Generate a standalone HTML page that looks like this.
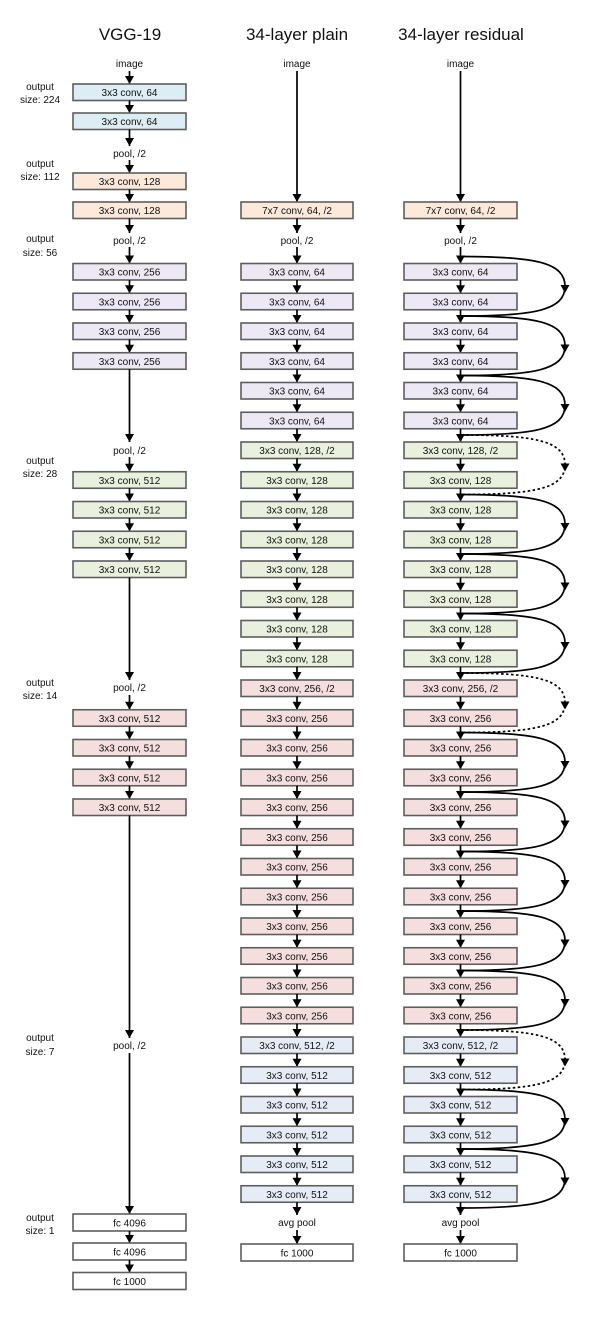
<!DOCTYPE html>
<html><head><meta charset="utf-8"><style>
html,body{margin:0;padding:0;background:#fff;}
svg{display:block;font-family:"Liberation Sans",sans-serif;}
.b{stroke:#5e5e5e;stroke-width:1.6}
.t{font-size:10px;text-anchor:middle;fill:#111}
.s{font-size:10px;text-anchor:middle;fill:#111}
.h{font-size:17px;text-anchor:middle;fill:#111}
.l{stroke:#000;stroke-width:1.7;fill:none}
.cu{stroke:#000;stroke-width:1.7;fill:none}
.da{stroke-dasharray:2.5,2.5}
.c1{fill:#dcedf3}.c2{fill:#fce9da}.c3{fill:#ece9f5}.c4{fill:#e9f0dd}.c5{fill:#f5dede}.c6{fill:#e6ecf6}.c0{fill:#fff}
</style></head><body>
<svg width="601" height="1317" viewBox="0 0 601 1317" xmlns="http://www.w3.org/2000/svg">
<defs><path id="ah" d="M-4.5,-8 L4.5,-8 L0,0Z" fill="#000"/></defs>
<!-- titles -->
<text class="h" x="130" y="40">VGG-19</text>
<text class="h" x="297" y="40">34-layer plain</text>
<text class="h" x="461" y="40">34-layer residual</text>
<!-- output size labels -->
<g class="s">
<text x="40" y="90">output</text><text x="40" y="103">size: 224</text>
<text x="40" y="167">output</text><text x="40" y="180">size: 112</text>
<text x="40" y="242">output</text><text x="40" y="256">size: 56</text>
<text x="40" y="464">output</text><text x="40" y="477">size: 28</text>
<text x="40" y="686">output</text><text x="40" y="699">size: 14</text>
<text x="40" y="1041">output</text><text x="40" y="1055">size: 7</text>
<text x="40" y="1221">output</text><text x="40" y="1234">size: 1</text>
</g>
<!-- VGG column -->
<text class="t" x="129.5" y="67">image</text>
<path class="l" d="M129.5 71V84"/><use href="#ah" x="129.5" y="84"/>
<rect class="b c1" x="73" y="84" width="113" height="16.5"/><text class="t" x="129.5" y="96">3x3 conv, 64</text>
<path class="l" d="M129.5 100.5V113"/><use href="#ah" x="129.5" y="113"/>
<rect class="b c1" x="73" y="113" width="113" height="16.5"/><text class="t" x="129.5" y="125">3x3 conv, 64</text>
<path class="l" d="M129.5 129.5V146"/><use href="#ah" x="129.5" y="146"/>
<text class="t" x="129.5" y="157">pool, /2</text>
<path class="l" d="M129.5 160V173"/><use href="#ah" x="129.5" y="173"/>
<rect class="b c2" x="73" y="173" width="113" height="16.5"/><text class="t" x="129.5" y="185">3x3 conv, 128</text>
<path class="l" d="M129.5 189.5V202"/><use href="#ah" x="129.5" y="202"/>
<rect class="b c2" x="73" y="202" width="113" height="16.5"/><text class="t" x="129.5" y="214">3x3 conv, 128</text>
<path class="l" d="M129.5 218.5V233"/><use href="#ah" x="129.5" y="233"/>
<text class="t" x="129.5" y="244">pool, /2</text>
<path class="l" d="M129.5 247V263.5"/><use href="#ah" x="129.5" y="263.5"/>
<rect class="b c3" x="73" y="263.5" width="113" height="16.5"/><text class="t" x="129.5" y="275.5">3x3 conv, 256</text>
<path class="l" d="M129.5 280V293.25"/><use href="#ah" x="129.5" y="293.25"/>
<rect class="b c3" x="73" y="293.25" width="113" height="16.5"/><text class="t" x="129.5" y="305.25">3x3 conv, 256</text>
<path class="l" d="M129.5 309.75V323"/><use href="#ah" x="129.5" y="323"/>
<rect class="b c3" x="73" y="323" width="113" height="16.5"/><text class="t" x="129.5" y="335">3x3 conv, 256</text>
<path class="l" d="M129.5 339.5V352.75"/><use href="#ah" x="129.5" y="352.75"/>
<rect class="b c3" x="73" y="352.75" width="113" height="16.5"/><text class="t" x="129.5" y="364.75">3x3 conv, 256</text>
<path class="l" d="M129.5 369.25V442"/><use href="#ah" x="129.5" y="442"/>
<text class="t" x="129.5" y="454">pool, /2</text>
<path class="l" d="M129.5 457V471.75"/><use href="#ah" x="129.5" y="471.75"/>
<rect class="b c4" x="73" y="471.75" width="113" height="16.5"/><text class="t" x="129.5" y="483.75">3x3 conv, 512</text>
<path class="l" d="M129.5 488.25V501.5"/><use href="#ah" x="129.5" y="501.5"/>
<rect class="b c4" x="73" y="501.5" width="113" height="16.5"/><text class="t" x="129.5" y="513.5">3x3 conv, 512</text>
<path class="l" d="M129.5 518V531.25"/><use href="#ah" x="129.5" y="531.25"/>
<rect class="b c4" x="73" y="531.25" width="113" height="16.5"/><text class="t" x="129.5" y="543.25">3x3 conv, 512</text>
<path class="l" d="M129.5 547.75V561"/><use href="#ah" x="129.5" y="561"/>
<rect class="b c4" x="73" y="561" width="113" height="16.5"/><text class="t" x="129.5" y="573">3x3 conv, 512</text>
<path class="l" d="M129.5 577.5V680"/><use href="#ah" x="129.5" y="680"/>
<text class="t" x="129.5" y="691">pool, /2</text>
<path class="l" d="M129.5 695V709.75"/><use href="#ah" x="129.5" y="709.75"/>
<rect class="b c5" x="73" y="709.75" width="113" height="16.5"/><text class="t" x="129.5" y="721.75">3x3 conv, 512</text>
<path class="l" d="M129.5 726.25V739.5"/><use href="#ah" x="129.5" y="739.5"/>
<rect class="b c5" x="73" y="739.5" width="113" height="16.5"/><text class="t" x="129.5" y="751.5">3x3 conv, 512</text>
<path class="l" d="M129.5 756V769.25"/><use href="#ah" x="129.5" y="769.25"/>
<rect class="b c5" x="73" y="769.25" width="113" height="16.5"/><text class="t" x="129.5" y="781.25">3x3 conv, 512</text>
<path class="l" d="M129.5 785.75V799"/><use href="#ah" x="129.5" y="799"/>
<rect class="b c5" x="73" y="799" width="113" height="16.5"/><text class="t" x="129.5" y="811">3x3 conv, 512</text>
<path class="l" d="M129.5 815.5V1038"/><use href="#ah" x="129.5" y="1038"/>
<text class="t" x="129.5" y="1049">pool, /2</text>
<path class="l" d="M129.5 1053V1214"/><use href="#ah" x="129.5" y="1214"/>
<rect class="b c0" x="73" y="1214" width="113" height="17"/><text class="t" x="129.5" y="1226.5">fc 4096</text>
<path class="l" d="M129.5 1231V1243"/><use href="#ah" x="129.5" y="1243"/>
<rect class="b c0" x="73" y="1243" width="113" height="17"/><text class="t" x="129.5" y="1255.5">fc 4096</text>
<path class="l" d="M129.5 1260V1272.5"/><use href="#ah" x="129.5" y="1272.5"/>
<rect class="b c0" x="73" y="1272.5" width="113" height="17"/><text class="t" x="129.5" y="1285">fc 1000</text>

<!-- plain & residual tops -->
<text class="t" x="297" y="67">image</text><text class="t" x="460.5" y="67">image</text>
<path class="l" d="M297 71V202M460.5 71V202"/><use href="#ah" x="297" y="202"/><use href="#ah" x="460.5" y="202"/>
<rect class="b c2" x="241" y="202" width="112" height="16.5"/><text class="t" x="297" y="214">7x7 conv, 64, /2</text>
<rect class="b c2" x="404" y="202" width="113" height="16.5"/><text class="t" x="460.5" y="214">7x7 conv, 64, /2</text>
<path class="l" d="M297 218.5V233M460.5 218.5V233"/><use href="#ah" x="297" y="233"/><use href="#ah" x="460.5" y="233"/>
<text class="t" x="297" y="244">pool, /2</text><text class="t" x="460.5" y="244">pool, /2</text>
<path class="l" d="M297 247V263.5M460.5 247V263.5"/><use href="#ah" x="297" y="263.5"/><use href="#ah" x="460.5" y="263.5"/>

<!-- repeated rows -->
<g id="r0" transform="translate(0,263.5)"><rect class="b c3" x="241" y="0" width="112" height="16.5"/><text class="t" x="297" y="12">3x3 conv, 64</text><rect class="b c3" x="404" y="0" width="113" height="16.5"/><text class="t" x="460.5" y="12">3x3 conv, 64</text><path class="l" d="M297 16.5V29.75M460.5 16.5V29.75"/><use href="#ah" x="297" y="29.75"/><use href="#ah" x="460.5" y="29.75"/></g>
<g transform="translate(0,293.25)"><rect class="b c3" x="241" y="0" width="112" height="16.5"/><text class="t" x="297" y="12">3x3 conv, 64</text><rect class="b c3" x="404" y="0" width="113" height="16.5"/><text class="t" x="460.5" y="12">3x3 conv, 64</text><path class="l" d="M297 16.5V29.75M460.5 16.5V29.75"/><use href="#ah" x="297" y="29.75"/><use href="#ah" x="460.5" y="29.75"/></g>
<g transform="translate(0,323)"><rect class="b c3" x="241" y="0" width="112" height="16.5"/><text class="t" x="297" y="12">3x3 conv, 64</text><rect class="b c3" x="404" y="0" width="113" height="16.5"/><text class="t" x="460.5" y="12">3x3 conv, 64</text><path class="l" d="M297 16.5V29.75M460.5 16.5V29.75"/><use href="#ah" x="297" y="29.75"/><use href="#ah" x="460.5" y="29.75"/></g>
<g transform="translate(0,352.75)"><rect class="b c3" x="241" y="0" width="112" height="16.5"/><text class="t" x="297" y="12">3x3 conv, 64</text><rect class="b c3" x="404" y="0" width="113" height="16.5"/><text class="t" x="460.5" y="12">3x3 conv, 64</text><path class="l" d="M297 16.5V29.75M460.5 16.5V29.75"/><use href="#ah" x="297" y="29.75"/><use href="#ah" x="460.5" y="29.75"/></g>
<g transform="translate(0,382.5)"><rect class="b c3" x="241" y="0" width="112" height="16.5"/><text class="t" x="297" y="12">3x3 conv, 64</text><rect class="b c3" x="404" y="0" width="113" height="16.5"/><text class="t" x="460.5" y="12">3x3 conv, 64</text><path class="l" d="M297 16.5V29.75M460.5 16.5V29.75"/><use href="#ah" x="297" y="29.75"/><use href="#ah" x="460.5" y="29.75"/></g>
<g transform="translate(0,412.25)"><rect class="b c3" x="241" y="0" width="112" height="16.5"/><text class="t" x="297" y="12">3x3 conv, 64</text><rect class="b c3" x="404" y="0" width="113" height="16.5"/><text class="t" x="460.5" y="12">3x3 conv, 64</text><path class="l" d="M297 16.5V29.75M460.5 16.5V29.75"/><use href="#ah" x="297" y="29.75"/><use href="#ah" x="460.5" y="29.75"/></g>
<g transform="translate(0,442)"><rect class="b c4" x="241" y="0" width="112" height="16.5"/><text class="t" x="297" y="12">3x3 conv, 128, /2</text><rect class="b c4" x="404" y="0" width="113" height="16.5"/><text class="t" x="460.5" y="12">3x3 conv, 128, /2</text><path class="l" d="M297 16.5V29.75M460.5 16.5V29.75"/><use href="#ah" x="297" y="29.75"/><use href="#ah" x="460.5" y="29.75"/></g>
<g transform="translate(0,471.75)"><rect class="b c4" x="241" y="0" width="112" height="16.5"/><text class="t" x="297" y="12">3x3 conv, 128</text><rect class="b c4" x="404" y="0" width="113" height="16.5"/><text class="t" x="460.5" y="12">3x3 conv, 128</text><path class="l" d="M297 16.5V29.75M460.5 16.5V29.75"/><use href="#ah" x="297" y="29.75"/><use href="#ah" x="460.5" y="29.75"/></g>
<g transform="translate(0,501.5)"><rect class="b c4" x="241" y="0" width="112" height="16.5"/><text class="t" x="297" y="12">3x3 conv, 128</text><rect class="b c4" x="404" y="0" width="113" height="16.5"/><text class="t" x="460.5" y="12">3x3 conv, 128</text><path class="l" d="M297 16.5V29.75M460.5 16.5V29.75"/><use href="#ah" x="297" y="29.75"/><use href="#ah" x="460.5" y="29.75"/></g>
<g transform="translate(0,531.25)"><rect class="b c4" x="241" y="0" width="112" height="16.5"/><text class="t" x="297" y="12">3x3 conv, 128</text><rect class="b c4" x="404" y="0" width="113" height="16.5"/><text class="t" x="460.5" y="12">3x3 conv, 128</text><path class="l" d="M297 16.5V29.75M460.5 16.5V29.75"/><use href="#ah" x="297" y="29.75"/><use href="#ah" x="460.5" y="29.75"/></g>
<g transform="translate(0,561)"><rect class="b c4" x="241" y="0" width="112" height="16.5"/><text class="t" x="297" y="12">3x3 conv, 128</text><rect class="b c4" x="404" y="0" width="113" height="16.5"/><text class="t" x="460.5" y="12">3x3 conv, 128</text><path class="l" d="M297 16.5V29.75M460.5 16.5V29.75"/><use href="#ah" x="297" y="29.75"/><use href="#ah" x="460.5" y="29.75"/></g>
<g transform="translate(0,590.75)"><rect class="b c4" x="241" y="0" width="112" height="16.5"/><text class="t" x="297" y="12">3x3 conv, 128</text><rect class="b c4" x="404" y="0" width="113" height="16.5"/><text class="t" x="460.5" y="12">3x3 conv, 128</text><path class="l" d="M297 16.5V29.75M460.5 16.5V29.75"/><use href="#ah" x="297" y="29.75"/><use href="#ah" x="460.5" y="29.75"/></g>
<g transform="translate(0,620.5)"><rect class="b c4" x="241" y="0" width="112" height="16.5"/><text class="t" x="297" y="12">3x3 conv, 128</text><rect class="b c4" x="404" y="0" width="113" height="16.5"/><text class="t" x="460.5" y="12">3x3 conv, 128</text><path class="l" d="M297 16.5V29.75M460.5 16.5V29.75"/><use href="#ah" x="297" y="29.75"/><use href="#ah" x="460.5" y="29.75"/></g>
<g transform="translate(0,650.25)"><rect class="b c4" x="241" y="0" width="112" height="16.5"/><text class="t" x="297" y="12">3x3 conv, 128</text><rect class="b c4" x="404" y="0" width="113" height="16.5"/><text class="t" x="460.5" y="12">3x3 conv, 128</text><path class="l" d="M297 16.5V29.75M460.5 16.5V29.75"/><use href="#ah" x="297" y="29.75"/><use href="#ah" x="460.5" y="29.75"/></g>
<g transform="translate(0,680)"><rect class="b c5" x="241" y="0" width="112" height="16.5"/><text class="t" x="297" y="12">3x3 conv, 256, /2</text><rect class="b c5" x="404" y="0" width="113" height="16.5"/><text class="t" x="460.5" y="12">3x3 conv, 256, /2</text><path class="l" d="M297 16.5V29.75M460.5 16.5V29.75"/><use href="#ah" x="297" y="29.75"/><use href="#ah" x="460.5" y="29.75"/></g>
<g transform="translate(0,709.75)"><rect class="b c5" x="241" y="0" width="112" height="16.5"/><text class="t" x="297" y="12">3x3 conv, 256</text><rect class="b c5" x="404" y="0" width="113" height="16.5"/><text class="t" x="460.5" y="12">3x3 conv, 256</text><path class="l" d="M297 16.5V29.75M460.5 16.5V29.75"/><use href="#ah" x="297" y="29.75"/><use href="#ah" x="460.5" y="29.75"/></g>
<g transform="translate(0,739.5)"><rect class="b c5" x="241" y="0" width="112" height="16.5"/><text class="t" x="297" y="12">3x3 conv, 256</text><rect class="b c5" x="404" y="0" width="113" height="16.5"/><text class="t" x="460.5" y="12">3x3 conv, 256</text><path class="l" d="M297 16.5V29.75M460.5 16.5V29.75"/><use href="#ah" x="297" y="29.75"/><use href="#ah" x="460.5" y="29.75"/></g>
<g transform="translate(0,769.25)"><rect class="b c5" x="241" y="0" width="112" height="16.5"/><text class="t" x="297" y="12">3x3 conv, 256</text><rect class="b c5" x="404" y="0" width="113" height="16.5"/><text class="t" x="460.5" y="12">3x3 conv, 256</text><path class="l" d="M297 16.5V29.75M460.5 16.5V29.75"/><use href="#ah" x="297" y="29.75"/><use href="#ah" x="460.5" y="29.75"/></g>
<g transform="translate(0,799)"><rect class="b c5" x="241" y="0" width="112" height="16.5"/><text class="t" x="297" y="12">3x3 conv, 256</text><rect class="b c5" x="404" y="0" width="113" height="16.5"/><text class="t" x="460.5" y="12">3x3 conv, 256</text><path class="l" d="M297 16.5V29.75M460.5 16.5V29.75"/><use href="#ah" x="297" y="29.75"/><use href="#ah" x="460.5" y="29.75"/></g>
<g transform="translate(0,828.75)"><rect class="b c5" x="241" y="0" width="112" height="16.5"/><text class="t" x="297" y="12">3x3 conv, 256</text><rect class="b c5" x="404" y="0" width="113" height="16.5"/><text class="t" x="460.5" y="12">3x3 conv, 256</text><path class="l" d="M297 16.5V29.75M460.5 16.5V29.75"/><use href="#ah" x="297" y="29.75"/><use href="#ah" x="460.5" y="29.75"/></g>
<g transform="translate(0,858.5)"><rect class="b c5" x="241" y="0" width="112" height="16.5"/><text class="t" x="297" y="12">3x3 conv, 256</text><rect class="b c5" x="404" y="0" width="113" height="16.5"/><text class="t" x="460.5" y="12">3x3 conv, 256</text><path class="l" d="M297 16.5V29.75M460.5 16.5V29.75"/><use href="#ah" x="297" y="29.75"/><use href="#ah" x="460.5" y="29.75"/></g>
<g transform="translate(0,888.25)"><rect class="b c5" x="241" y="0" width="112" height="16.5"/><text class="t" x="297" y="12">3x3 conv, 256</text><rect class="b c5" x="404" y="0" width="113" height="16.5"/><text class="t" x="460.5" y="12">3x3 conv, 256</text><path class="l" d="M297 16.5V29.75M460.5 16.5V29.75"/><use href="#ah" x="297" y="29.75"/><use href="#ah" x="460.5" y="29.75"/></g>
<g transform="translate(0,918)"><rect class="b c5" x="241" y="0" width="112" height="16.5"/><text class="t" x="297" y="12">3x3 conv, 256</text><rect class="b c5" x="404" y="0" width="113" height="16.5"/><text class="t" x="460.5" y="12">3x3 conv, 256</text><path class="l" d="M297 16.5V29.75M460.5 16.5V29.75"/><use href="#ah" x="297" y="29.75"/><use href="#ah" x="460.5" y="29.75"/></g>
<g transform="translate(0,947.75)"><rect class="b c5" x="241" y="0" width="112" height="16.5"/><text class="t" x="297" y="12">3x3 conv, 256</text><rect class="b c5" x="404" y="0" width="113" height="16.5"/><text class="t" x="460.5" y="12">3x3 conv, 256</text><path class="l" d="M297 16.5V29.75M460.5 16.5V29.75"/><use href="#ah" x="297" y="29.75"/><use href="#ah" x="460.5" y="29.75"/></g>
<g transform="translate(0,977.5)"><rect class="b c5" x="241" y="0" width="112" height="16.5"/><text class="t" x="297" y="12">3x3 conv, 256</text><rect class="b c5" x="404" y="0" width="113" height="16.5"/><text class="t" x="460.5" y="12">3x3 conv, 256</text><path class="l" d="M297 16.5V29.75M460.5 16.5V29.75"/><use href="#ah" x="297" y="29.75"/><use href="#ah" x="460.5" y="29.75"/></g>
<g transform="translate(0,1007.25)"><rect class="b c5" x="241" y="0" width="112" height="16.5"/><text class="t" x="297" y="12">3x3 conv, 256</text><rect class="b c5" x="404" y="0" width="113" height="16.5"/><text class="t" x="460.5" y="12">3x3 conv, 256</text><path class="l" d="M297 16.5V29.75M460.5 16.5V29.75"/><use href="#ah" x="297" y="29.75"/><use href="#ah" x="460.5" y="29.75"/></g>
<g transform="translate(0,1037)"><rect class="b c6" x="241" y="0" width="112" height="16.5"/><text class="t" x="297" y="12">3x3 conv, 512, /2</text><rect class="b c6" x="404" y="0" width="113" height="16.5"/><text class="t" x="460.5" y="12">3x3 conv, 512, /2</text><path class="l" d="M297 16.5V29.75M460.5 16.5V29.75"/><use href="#ah" x="297" y="29.75"/><use href="#ah" x="460.5" y="29.75"/></g>
<g transform="translate(0,1066.75)"><rect class="b c6" x="241" y="0" width="112" height="16.5"/><text class="t" x="297" y="12">3x3 conv, 512</text><rect class="b c6" x="404" y="0" width="113" height="16.5"/><text class="t" x="460.5" y="12">3x3 conv, 512</text><path class="l" d="M297 16.5V29.75M460.5 16.5V29.75"/><use href="#ah" x="297" y="29.75"/><use href="#ah" x="460.5" y="29.75"/></g>
<g transform="translate(0,1096.5)"><rect class="b c6" x="241" y="0" width="112" height="16.5"/><text class="t" x="297" y="12">3x3 conv, 512</text><rect class="b c6" x="404" y="0" width="113" height="16.5"/><text class="t" x="460.5" y="12">3x3 conv, 512</text><path class="l" d="M297 16.5V29.75M460.5 16.5V29.75"/><use href="#ah" x="297" y="29.75"/><use href="#ah" x="460.5" y="29.75"/></g>
<g transform="translate(0,1126.25)"><rect class="b c6" x="241" y="0" width="112" height="16.5"/><text class="t" x="297" y="12">3x3 conv, 512</text><rect class="b c6" x="404" y="0" width="113" height="16.5"/><text class="t" x="460.5" y="12">3x3 conv, 512</text><path class="l" d="M297 16.5V29.75M460.5 16.5V29.75"/><use href="#ah" x="297" y="29.75"/><use href="#ah" x="460.5" y="29.75"/></g>
<g transform="translate(0,1156)"><rect class="b c6" x="241" y="0" width="112" height="16.5"/><text class="t" x="297" y="12">3x3 conv, 512</text><rect class="b c6" x="404" y="0" width="113" height="16.5"/><text class="t" x="460.5" y="12">3x3 conv, 512</text><path class="l" d="M297 16.5V29.75M460.5 16.5V29.75"/><use href="#ah" x="297" y="29.75"/><use href="#ah" x="460.5" y="29.75"/></g>
<g transform="translate(0,1185.75)"><rect class="b c6" x="241" y="0" width="112" height="16.5"/><text class="t" x="297" y="12">3x3 conv, 512</text><rect class="b c6" x="404" y="0" width="113" height="16.5"/><text class="t" x="460.5" y="12">3x3 conv, 512</text></g>

<!-- bottom -->
<path class="l" d="M297 1202.25V1215M460.5 1202.25V1215"/><use href="#ah" x="297" y="1215"/><use href="#ah" x="460.5" y="1215"/>
<text class="t" x="297" y="1226">avg pool</text><text class="t" x="460.5" y="1226">avg pool</text>
<path class="l" d="M297 1230V1244M460.5 1230V1244"/><use href="#ah" x="297" y="1244"/><use href="#ah" x="460.5" y="1244"/>
<rect class="b c0" x="241" y="1244" width="112" height="17"/><text class="t" x="297" y="1256.5">fc 1000</text>
<rect class="b c0" x="404" y="1244" width="113" height="17"/><text class="t" x="460.5" y="1256.5">fc 1000</text>

<!-- skip connections -->
<g class="cu">
<path d="M461 256.5C535 256.5 565 262.5 565 286.25C565 310 535 316 461 316"/>
<path d="M461 316C535 316 565 322 565 345.75C565 369.5 535 375.5 461 375.5"/>
<path d="M461 375.5C535 375.5 565 381.5 565 405.25C565 429 535 435 461 435"/>
<path class="da" d="M461 435C535 435 565 441 565 464.75C565 488.5 535 494.5 461 494.5"/>
<path d="M461 494.5C535 494.5 565 500.5 565 524.25C565 548 535 554 461 554"/>
<path d="M461 554C535 554 565 560 565 583.75C565 607.5 535 613.5 461 613.5"/>
<path d="M461 613.5C535 613.5 565 619.5 565 643.25C565 667 535 673 461 673"/>
<path class="da" d="M461 673C535 673 565 679 565 702.75C565 726.5 535 732.5 461 732.5"/>
<path d="M461 732.5C535 732.5 565 738.5 565 762.25C565 786 535 792 461 792"/>
<path d="M461 792C535 792 565 798 565 821.75C565 845.5 535 851.5 461 851.5"/>
<path d="M461 851.5C535 851.5 565 857.5 565 881.25C565 905 535 911 461 911"/>
<path d="M461 911C535 911 565 917 565 940.75C565 964.5 535 970.5 461 970.5"/>
<path d="M461 970.5C535 970.5 565 976.5 565 1000.25C565 1024 535 1030 461 1030"/>
<path class="da" d="M461 1030C535 1030 565 1036 565 1059.75C565 1083.5 535 1089.5 461 1089.5"/>
<path d="M461 1089.5C535 1089.5 565 1095.5 565 1119.25C565 1143 535 1149 461 1149"/>
<path d="M461 1149C535 1149 565 1155 565 1178.5C565 1202 535 1208 461 1208"/>
</g>
<g>
<use href="#ah" x="565" y="293"/><use href="#ah" x="565" y="352.5"/><use href="#ah" x="565" y="412"/>
<use href="#ah" x="565" y="471.5"/><use href="#ah" x="565" y="531"/><use href="#ah" x="565" y="590.5"/>
<use href="#ah" x="565" y="650"/><use href="#ah" x="565" y="709.5"/><use href="#ah" x="565" y="769"/>
<use href="#ah" x="565" y="828.5"/><use href="#ah" x="565" y="888"/><use href="#ah" x="565" y="947.5"/>
<use href="#ah" x="565" y="1007"/><use href="#ah" x="565" y="1066.5"/><use href="#ah" x="565" y="1126"/>
<use href="#ah" x="565" y="1185.5"/>
</g>
</svg>
</body></html>
